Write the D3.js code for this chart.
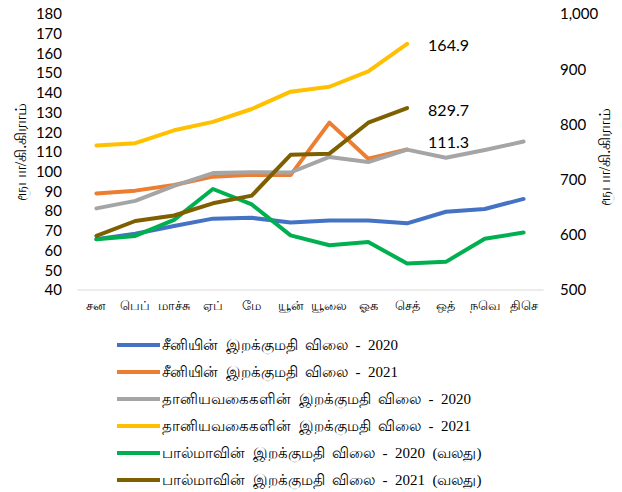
<!DOCTYPE html>
<html>
<head>
	<meta charset="utf-8">
	<title>Import prices</title>
	<script type="text/javascript" src="https://d3js.org/d3.v7.min.js"></script>
	<style>
		body { margin: 0; background: #fff; }
		.tick text { font-family: Lato, "Open Sans", sans-serif; fill: #000; }
	</style>
</head>
<body>
<script type="text/javascript">
	var months = ["சன", "பெப்", "மாச்சு", "ஏப்", "மே", "யூன்", "யூலை", "ஓக", "செத்", "ஒத்", "நவெ", "திசெ"];

	var sugar2020 = [65.8, 68.5, 72.5, 76.2, 76.6, 74.2, 75.2, 75.3, 73.8, 79.7, 81.1, 86.2];
	var sugar2021 = [89.0, 90.4, 93.3, 97.5, 98.4, 98.3, 124.9, 106.6, 111.3];
	var cereal2020 = [81.4, 85.2, 92.8, 99.3, 99.7, 99.6, 107.5, 104.9, 111.2, 107.1, 111.0, 115.3];
	var cereal2021 = [113.3, 114.5, 121.0, 125.3, 131.8, 140.6, 143.1, 150.9, 164.9];
	var flour2020 = [592, 598, 627, 683, 655, 599, 581, 587, 548, 551, 593, 604];
	var flour2021 = [598, 625, 635, 657, 671, 745, 747, 803, 829.7];

	var leftTicks = [40, 50, 60, 70, 80, 90, 100, 110, 120, 130, 140, 150, 160, 170, 180];
	var rightTicks = [500, 600, 700, 800, 900, 1000];

	var series = [
		{name: "சீனியின்  இறக்குமதி  விலை  -  2020", values: sugar2020, axis: "left", color: "#4472C4"},
		{name: "சீனியின்  இறக்குமதி  விலை  -  2021", values: sugar2021, axis: "left", color: "#ED7D31", label: "111.3"},
		{name: "தானியவகைகளின்  இறக்குமதி  விலை  -  2020", values: cereal2020, axis: "left", color: "#A5A5A5"},
		{name: "தானியவகைகளின்  இறக்குமதி  விலை  -  2021", values: cereal2021, axis: "left", color: "#FFC000", label: "164.9"},
		{name: "பால்மாவின்  இறக்குமதி  விலை  -  2020  (வலது)", values: flour2020, axis: "right", color: "#00B050"},
		{name: "பால்மாவின்  இறக்குமதி  விலை  -  2021  (வலது)", values: flour2021, axis: "right", color: "#7F6000", label: "829.7"}
	];

	var width = 622, height = 492;
	var plot = {left: 77, right: 543, top: 14, bottom: 290};

	var svg = d3.select("body")
		.append("svg")
		.attr("width", width)
		.attr("height", height);

	var xScale = d3.scaleBand()
		.domain(months)
		.range([plot.left, plot.right]);

	var yLeft = d3.scaleLinear()
		.domain([40, 180])
		.range([plot.bottom, plot.top]);

	var yRight = d3.scaleLinear()
		.domain([500, 1000])
		.range([plot.bottom, plot.top]);

	function xc(i) { return xScale(months[i]) + xScale.bandwidth() / 2; }

	// left axis
	svg.append("g")
		.attr("transform", "translate(62,0)")
		.call(d3.axisLeft(yLeft).tickValues(leftTicks).tickSize(0).tickPadding(0))
		.call(function(g) { g.select(".domain").remove(); })
		.selectAll("text").style("font-size", "15px");

	// right axis
	svg.append("g")
		.attr("transform", "translate(560,0)")
		.call(d3.axisRight(yRight).tickValues(rightTicks).tickSize(0).tickPadding(0).tickFormat(d3.format(",")))
		.call(function(g) { g.select(".domain").remove(); })
		.selectAll("text").style("font-size", "15px");

	// x axis
	var xAxis = svg.append("g")
		.attr("transform", "translate(0," + (plot.bottom - 0.5) + ")")
		.call(d3.axisBottom(xScale).tickSize(0).tickPadding(11));
	xAxis.select(".domain").attr("stroke", "#D9D9D9").attr("stroke-width", 1);
	xAxis.selectAll("text").style("font-size", "13px").style("font-family", "'Liberation Serif', serif");

	// axis titles
	svg.append("text")
		.attr("transform", "translate(26,152) rotate(-90)")
		.attr("text-anchor", "middle")
		.style("font-family", "'Liberation Serif', serif")
		.style("font-size", "16px")
		.text("ரூபா/கி.கிராம்");

	svg.append("text")
		.attr("transform", "translate(610,157) rotate(-90)")
		.attr("text-anchor", "middle")
		.style("font-family", "'Liberation Serif', serif")
		.style("font-size", "16px")
		.text("ரூபா/கி.கிராம்");

	// lines
	series.forEach(function(s) {
		var y = s.axis == "left" ? yLeft : yRight;
		var line = d3.line()
			.x(function(d, i) { return xc(i); })
			.y(function(d) { return y(d); });
		svg.append("path")
			.datum(s.values)
			.attr("fill", "none")
			.attr("stroke", s.color)
			.attr("stroke-width", 4)
			.attr("stroke-linejoin", "round")
			.attr("stroke-linecap", "round")
			.attr("d", line);
	});

	// data labels at the last point
	series.filter(function(s) { return s.label; }).forEach(function(s) {
		var y = s.axis == "left" ? yLeft : yRight;
		var n = s.values.length - 1;
		var shift = s.label == "111.3" ? -7 : 2;
		svg.append("text")
			.attr("x", xc(n) + 21)
			.attr("y", y(s.values[n]) + shift)
			.attr("dy", "0.35em")
			.style("font-family", "Lato, sans-serif")
			.style("font-size", "16px")
			.text(s.label);
	});

	// legend
	var legend = svg.selectAll(".legend")
		.data(series)
		.enter()
		.append("g")
		.attr("class", "legend")
		.attr("transform", function(d, i) { return "translate(0," + (345 + i * 27) + ")"; });

	legend.append("line")
		.attr("x1", 117)
		.attr("x2", 160)
		.attr("stroke", function(d) { return d.color; })
		.attr("stroke-width", 4);

	legend.append("text")
		.attr("x", 162)
		.attr("dy", "0.35em")
		.style("font-family", "'Liberation Serif', serif")
		.style("font-size", "15px")
		.style("white-space", "pre")
		.text(function(d) { return d.name; });
</script>
</body>
</html>
